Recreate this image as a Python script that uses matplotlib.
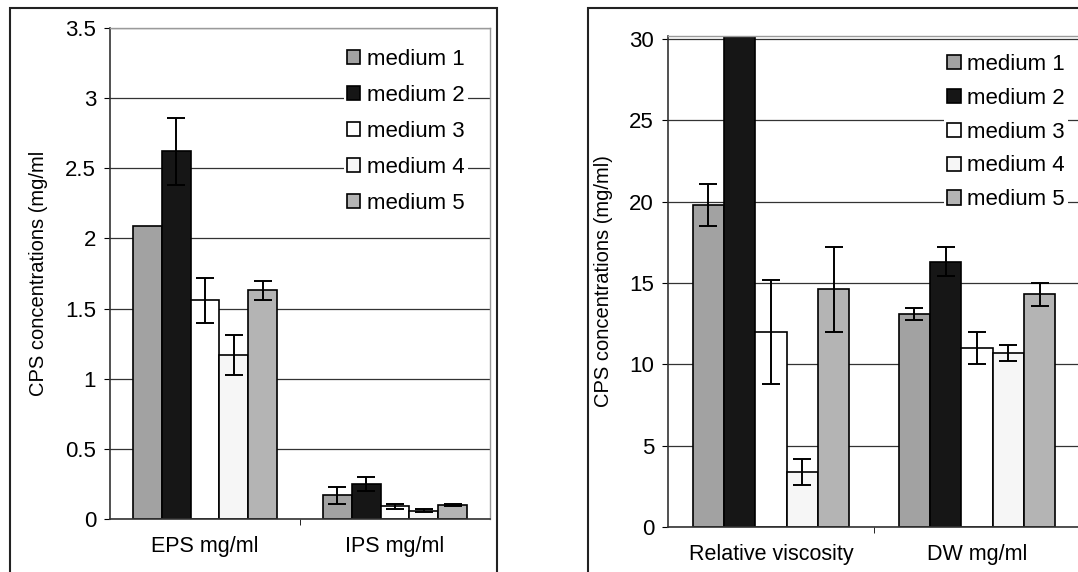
import numpy as np
import matplotlib.pyplot as plt
from matplotlib.patches import Rectangle

plt.rcParams['font.family'] = ['Liberation Sans', 'DejaVu Sans']

media = ['medium 1', 'medium 2', 'medium 3', 'medium 4', 'medium 5']
colors = ['#a2a2a2', '#161616', '#ffffff', '#f6f6f6', '#b4b4b4']

# left panel
left_cats = ['EPS mg/ml', 'IPS mg/ml']
left_vals = [[2.09, 0.17], [2.62, 0.25], [1.56, 0.09], [1.17, 0.06], [1.63, 0.10]]
left_errs = [[0.0, 0.06], [0.24, 0.05], [0.16, 0.02], [0.14, 0.01], [0.07, 0.01]]

# right panel
right_cats = ['Relative viscosity', 'DW mg/ml']
right_vals = [[19.8, 13.1], [30.3, 16.3], [12.0, 11.0], [3.4, 10.7], [14.6, 14.3]]
right_errs = [[1.3, 0.35], [0.0, 0.9], [3.2, 1.0], [0.8, 0.5], [2.6, 0.7]]

W, H = 1078, 572
fig = plt.figure(figsize=(W / 100, H / 100), dpi=100)

# panel frames
fig.patches.append(Rectangle((10 / W, -0.1), 487 / W, 1.1 - 8 / H, transform=fig.transFigure,
                             fill=False, edgecolor='#222222', lw=1.5))
fig.patches.append(Rectangle((588 / W, -0.1), 0.6, 1.1 - 8 / H, transform=fig.transFigure,
                             fill=False, edgecolor='#222222', lw=1.5))


def panel(rect, cats, vals, errs, ylim, yticks, ylabel, leg_anchor, lspace):
    ax = fig.add_axes(rect)
    x = np.arange(len(cats))
    bw = 0.152
    for i, (v, e) in enumerate(zip(vals, errs)):
        pos = x + (i - 2) * bw
        ax.bar(pos, v, bw, color=colors[i], edgecolor='black', linewidth=1.2,
               label=media[i], zorder=2)
        e = np.array(e)
        m = e > 0
        ax.errorbar(pos[m], np.array(v)[m], yerr=e[m], fmt='none', ecolor='black',
                    elinewidth=1.4, capsize=6.5, capthick=1.4, zorder=3)
    ax.set_xlim(-0.5, len(cats) - 0.5)
    ax.set_ylim(*ylim)
    ax.set_yticks(yticks)
    ax.set_yticklabels([('%g' % t) for t in yticks], fontsize=16)
    ax.set_xticks(x)
    ax.set_xticklabels(cats, fontsize=15.5)
    ax.set_xticks([0.5], minor=True)
    ax.tick_params(axis='x', which='major', length=0, pad=12)
    ax.tick_params(axis='x', which='minor', length=4, direction='out')
    ax.tick_params(axis='y', length=4, direction='out', pad=6)
    ax.grid(axis='y', color='#333333', lw=0.9, zorder=0)
    ax.set_axisbelow(True)
    for s in ['top', 'right']:
        ax.spines[s].set_color('#9a9a9a')
        ax.spines[s].set_linewidth(1.0)
    for s in ['left', 'bottom']:
        ax.spines[s].set_color('#333333')
        ax.spines[s].set_linewidth(1.2)
    ax.set_ylabel(ylabel, fontsize=14.5, labelpad=12)
    leg = ax.legend(loc='upper left', bbox_to_anchor=leg_anchor, frameon=True, fontsize=16,
                    handlelength=0.6, handleheight=0.6, handletextpad=0.3,
                    labelspacing=lspace, borderpad=0.15, borderaxespad=0)
    leg.get_frame().set_edgecolor('none')
    leg.get_frame().set_facecolor('white')
    leg.get_frame().set_alpha(1)
    return ax


panel([110 / W, 1 - 519 / H, 380 / W, 491 / H], left_cats, left_vals, left_errs,
      (0, 3.5), [0, 0.5, 1, 1.5, 2, 2.5, 3, 3.5], 'CPS concentrations (mg/ml',
      (0.615, 0.965), 0.68)
panel([668 / W, 1 - 527 / H, 412 / W, 491.3 / H], right_cats, right_vals, right_errs,
      (0, 30.2), [0, 5, 10, 15, 20, 25, 30], 'CPS concentrations (mg/ml)',
      (0.67, 0.97), 0.58)

fig.savefig('out.png', dpi=100)
